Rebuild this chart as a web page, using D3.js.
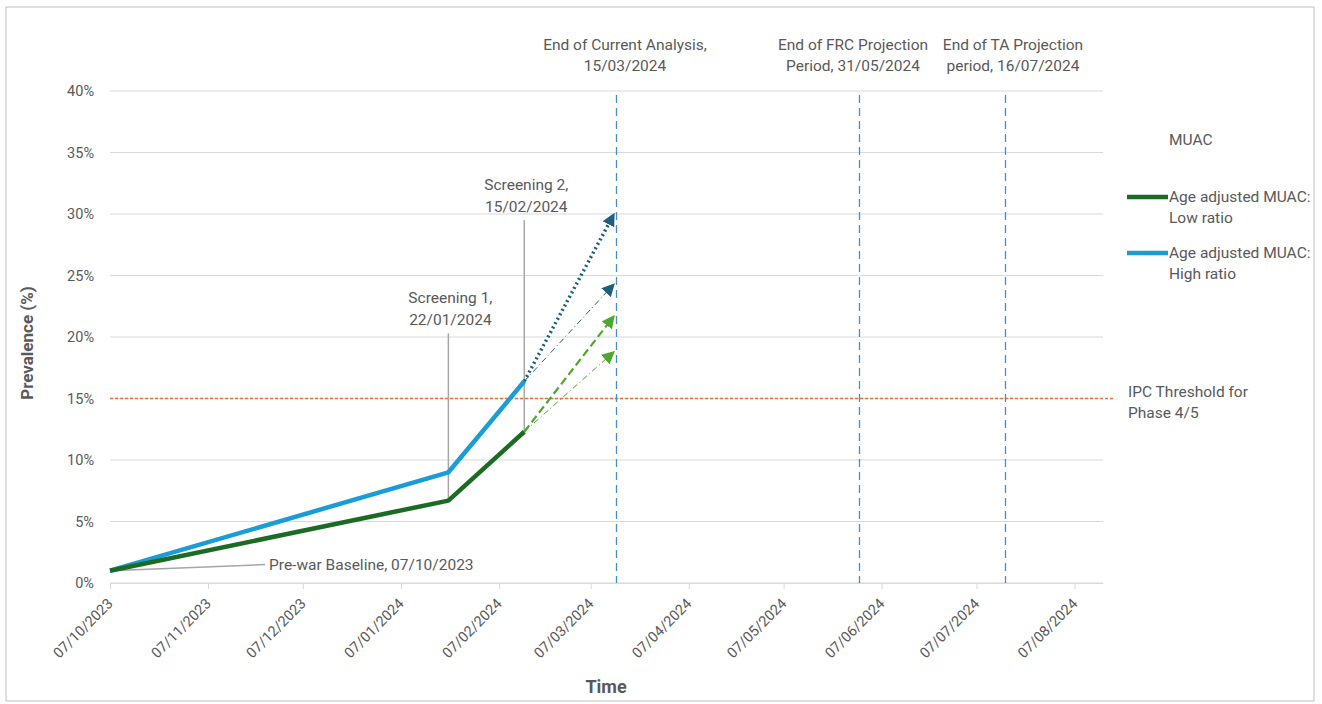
<!DOCTYPE html>
<html>
<head>
<meta charset="utf-8">
<script src="https://cdn.jsdelivr.net/npm/d3@7"></script>
<style>
  body { margin: 0; background: #fff; }
  text { font-family: Roboto, "Noto Sans", sans-serif; fill: #595959; }
</style>
</head>
<body>
<div id="chart"></div>
<script>
var svgWidth = 1322;
var svgHeight = 704;

// data
var tickLabels = ["07/10/2023","07/11/2023","07/12/2023","07/01/2024","07/02/2024","07/03/2024",
                  "07/04/2024","07/05/2024","07/06/2024","07/07/2024","07/08/2024"];
var yTicks = [0, 5, 10, 15, 20, 25, 30, 35, 40];
var obsDates = ["07/10/2023", "22/01/2024", "15/02/2024"];
var lowRatio = [1.0, 6.7, 12.3];
var highRatio = [1.0, 9.0, 16.4];
var projStart = "15/02/2024";
var projEnd = "15/03/2024";
var highProj = [30.0, 24.3];
var lowProj = [21.7, 18.8];
var ipcThreshold = 15;
var refDates = ["15/03/2024", "31/05/2024", "16/07/2024"];
var refLabels = [["End of Current Analysis,", "15/03/2024"],
                 ["End of FRC Projection", "Period, 31/05/2024"],
                 ["End of TA Projection", "period, 16/07/2024"]];

var parse = d3.utcParse("%d/%m/%Y");
var labelSize = "15.5px";

var margin = {top: 91, right: 219, bottom: 121, left: 110};
var plotWidth = svgWidth - margin.left - margin.right;
var plotHeight = svgHeight - margin.top - margin.bottom;

var svg = d3.select("#chart")
    .append("svg")
    .attr("width", svgWidth)
    .attr("height", svgHeight);

svg.append("rect")
    .attr("x", 6).attr("y", 7)
    .attr("width", 1308).attr("height", 694)
    .attr("fill", "none").attr("stroke", "#bfbfbf");

var defs = svg.append("defs");
function arrow(id, color, size) {
  defs.append("marker")
      .attr("id", id)
      .attr("markerUnits", "userSpaceOnUse")
      .attr("viewBox", "0 0 10 10")
      .attr("refX", 9).attr("refY", 5)
      .attr("markerWidth", size).attr("markerHeight", size)
      .attr("orient", "auto")
      .append("path")
      .attr("d", "M0,0 L10,5 L0,10 Z")
      .attr("fill", color);
}
arrow("arrBlue", "#1d5f7e", 13);
arrow("arrGreen", "#4ea72e", 13);

var plot = svg.append("g")
    .attr("transform", `translate(${margin.left},${margin.top})`);

var x = d3.scaleUtc()
    .domain([parse("07/10/2023"), parse("16/08/2024")])
    .range([0, plotWidth]);
var y = d3.scaleLinear()
    .domain([0, 40])
    .range([plotHeight, 0]);

// gridlines
plot.selectAll(".grid")
    .data(yTicks)
    .enter()
    .append("line")
    .attr("x1", 0).attr("x2", plotWidth)
    .attr("y1", d => y(d)).attr("y2", d => y(d))
    .attr("stroke", "#d9d9d9").attr("stroke-width", 1.2);

// y axis labels
var yAxis = plot.append("g")
    .call(d3.axisLeft(y).tickValues(yTicks).tickFormat(d => d + "%").tickSize(0).tickPadding(16));
yAxis.select(".domain").remove();
yAxis.selectAll("text").style("font-size", "14.5px").attr("fill", "#595959");

// x axis
var xAxis = plot.append("g")
    .attr("transform", `translate(0,${plotHeight})`)
    .call(d3.axisBottom(x).tickValues(tickLabels.map(parse)).tickFormat(d3.utcFormat("%d/%m/%Y")).tickSize(6).tickSizeOuter(0));
xAxis.select(".domain").attr("stroke", "#d9d9d9").attr("stroke-width", 1.2);
xAxis.selectAll(".tick line").attr("stroke", "#d9d9d9");
xAxis.selectAll("text")
    .style("font-size", "14.5px")
    .attr("fill", "#595959")
    .attr("text-anchor", "end")
    .attr("dx", 0).attr("dy", 0)
    .attr("transform", "translate(-3,15) rotate(-45)");

// IPC threshold
plot.append("line")
    .attr("x1", 0).attr("x2", plotWidth + 10)
    .attr("y1", y(ipcThreshold)).attr("y2", y(ipcThreshold))
    .attr("stroke", "#e97132").attr("stroke-width", 1.5)
    .attr("stroke-dasharray", "3,2");

// reference vertical lines
refDates.forEach(function(d, i) {
  var xx = Math.round(x(parse(d))) + 0.5;
  plot.append("line")
      .attr("x1", xx).attr("x2", xx)
      .attr("y1", 4).attr("y2", plotHeight)
      .attr("stroke", "#4a8cc4").attr("stroke-width", 1.3)
      .attr("stroke-dasharray", "8,5");
  var t = plot.append("text")
      .attr("text-anchor", "middle")
      .style("font-size", labelSize);
  var cx = [625, 853, 1013][i] - margin.left;
  refLabels[i].forEach(function(s, j) {
    t.append("tspan").attr("x", cx).attr("y", -41 + j * 21).text(s);
  });
});

// callouts
var calloutColor = "#a6a6a6";
plot.append("line")
    .attr("x1", x(parse(obsDates[0]))).attr("y1", y(lowRatio[0]))
    .attr("x2", 155).attr("y2", y(1.5))
    .attr("stroke", calloutColor).attr("stroke-width", 1.5);
plot.append("text")
    .attr("x", 159).attr("y", y(1.5) + 5)
    .style("font-size", labelSize)
    .text("Pre-war Baseline, 07/10/2023");

[[1, "Screening 1,", "22/01/2024", 20.3], [2, "Screening 2,", "15/02/2024", 29.5]].forEach(function(c) {
  var xx = x(parse(obsDates[c[0]]));
  plot.append("line")
      .attr("x1", xx).attr("x2", xx)
      .attr("y1", y(c[3])).attr("y2", y(lowRatio[c[0]]))
      .attr("stroke", calloutColor).attr("stroke-width", 1.5);
  var t = plot.append("text").attr("text-anchor", "middle").style("font-size", labelSize);
  t.append("tspan").attr("x", xx + 2).attr("y", y(c[3]) - 30).text(c[1]);
  t.append("tspan").attr("x", xx + 2).attr("y", y(c[3]) - 8).text(c[2]);
});

// projection arrows
var p0 = x(parse(projStart)), p1 = x(parse(projEnd));
var projStyles = [
  {start: highRatio[2], end: highProj[0], color: "#1d5f7e", w: 3.5, dash: "2,3", m: "arrBlue"},
  {start: highRatio[2], end: highProj[1], color: "#1d5f7e", w: 1, dash: "6,3,1,3", m: "arrBlue"},
  {start: lowRatio[2], end: lowProj[0], color: "#4ea72e", w: 2.2, dash: "8,4", m: "arrGreen"},
  {start: lowRatio[2], end: lowProj[1], color: "#4ea72e", w: 1, dash: "6,3,1,3", m: "arrGreen"}
];
projStyles.forEach(function(p) {
  plot.append("line")
      .attr("x1", p0).attr("y1", y(p.start))
      .attr("x2", p1 - 2).attr("y2", y(p.end))
      .attr("stroke", p.color).attr("stroke-width", p.w)
      .attr("stroke-dasharray", p.dash)
      .attr("marker-end", `url(#${p.m})`);
});

// main lines
var line = d3.line()
    .x(d => x(parse(d[0])))
    .y(d => y(d[1]));
plot.append("path")
    .datum(d3.zip(obsDates, highRatio))
    .attr("d", line)
    .attr("fill", "none").attr("stroke", "#1a9cd6").attr("stroke-width", 4.5)
    .attr("stroke-linejoin", "round");
plot.append("path")
    .datum(d3.zip(obsDates, lowRatio))
    .attr("d", line)
    .attr("fill", "none").attr("stroke", "#1b6b24").attr("stroke-width", 4.5)
    .attr("stroke-linejoin", "round");

// axis titles
svg.append("text")
    .attr("transform", "translate(33,343) rotate(-90)")
    .attr("text-anchor", "middle")
    .style("font-size", "17px").style("font-weight", "bold")
    .text("Prevalence (%)");
svg.append("text")
    .attr("x", 606).attr("y", 693)
    .attr("text-anchor", "middle")
    .style("font-size", "18px").style("font-weight", "bold")
    .text("Time");

// legend
var legend = svg.append("g");
legend.append("text").attr("x", 1169).attr("y", 145).style("font-size", labelSize).text("MUAC");
[["#1b6b24", "Low ratio", 197], ["#1a9cd6", "High ratio", 253]].forEach(function(l) {
  legend.append("line")
      .attr("x1", 1127).attr("x2", 1168)
      .attr("y1", l[2]).attr("y2", l[2])
      .attr("stroke", l[0]).attr("stroke-width", 4.5);
  var t = legend.append("text").style("font-size", labelSize);
  t.append("tspan").attr("x", 1169).attr("y", l[2] + 5).text("Age adjusted MUAC:");
  t.append("tspan").attr("x", 1169).attr("y", l[2] + 26).text(l[1]);
});
var ipc = legend.append("text").style("font-size", labelSize);
ipc.append("tspan").attr("x", 1128).attr("y", 397).text("IPC Threshold for");
ipc.append("tspan").attr("x", 1128).attr("y", 418).text("Phase 4/5");
</script>
</body>
</html>
